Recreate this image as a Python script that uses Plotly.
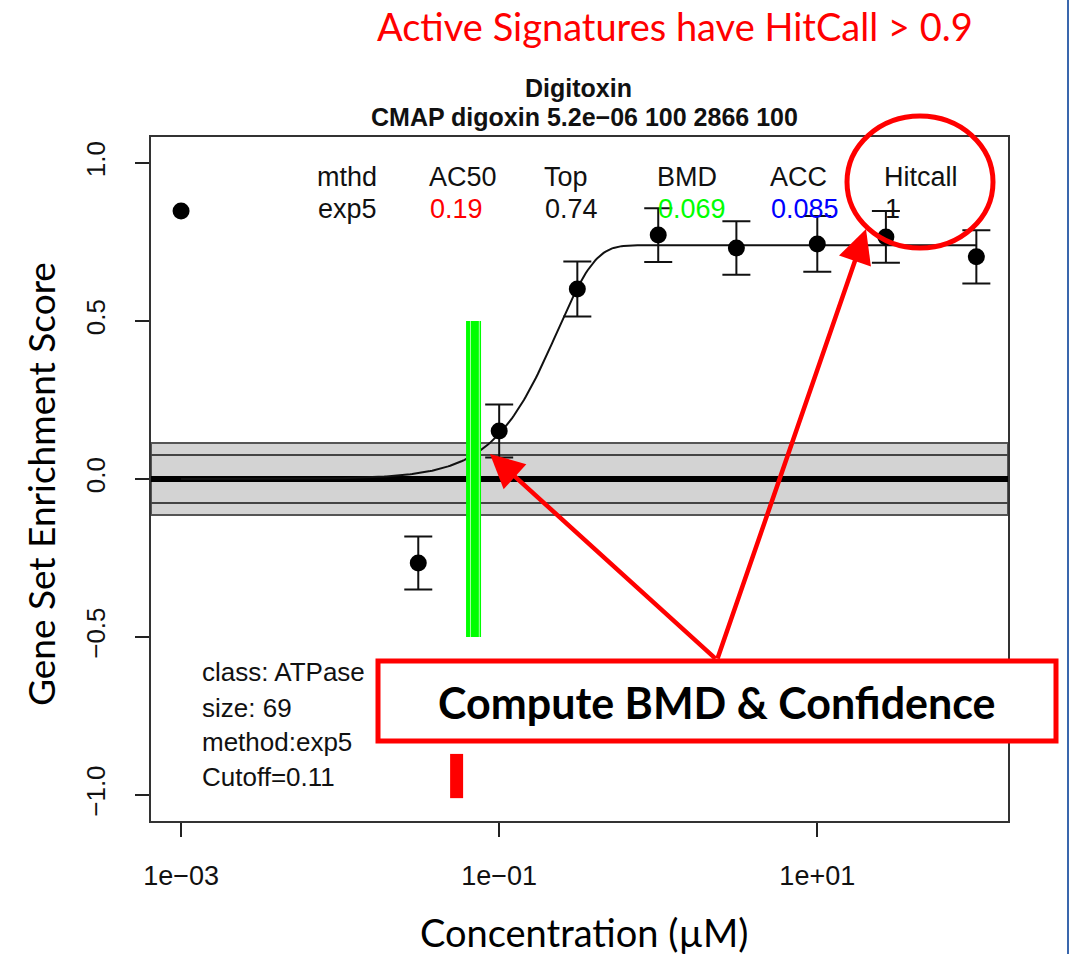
import numpy as np
import plotly.graph_objects as go

# ---- dose-response data (concentration in uM, gene set enrichment score) ----
conc = [0.001, 0.031, 0.1, 0.31, 1.0, 3.1, 10.0, 27.0, 100.0]
resp = [0.848, -0.266, 0.152, 0.601, 0.772, 0.731, 0.744, 0.766, 0.703]
resp_err = [0.0, 0.084, 0.084, 0.087, 0.085, 0.085, 0.088, 0.082, 0.084]

# ---- exp5 fit summary ----
fit_method = "exp5"
ac50 = 0.19
top = 0.74
bmd = 0.069
acc = 0.085
hitcall = 1
hill_power = 1.83
bmd_low = 0.066
bmd_high = 0.075
cutoff = 0.11
noise_band = 0.076
red_mark_conc = 0.054
red_mark_range = [-0.87, -1.01]
bmd_bar_range = [0.5, -0.5]

# ---- figure geometry (pixels) ----
W, H = 1072, 954
PL, PR, PT, PB = 151, 1008, 137, 821


def px(x):
    return (x - PL) / (PR - PL)


def py(y):
    return (PB - y) / (PB - PT)


R_FONT = "Liberation Sans, Arial, sans-serif"
SLIDE_FONT = "Lato, Open Sans, sans-serif"
INK = "#111111"

fig = go.Figure()

# fitted exp5 curve: top * (1 - 2^(-(x/ac50)^p))
xc = np.logspace(np.log10(conc[0]), np.log10(conc[-1]), 400)
yc = top * (1 - 2 ** (-((xc / ac50) ** hill_power)))
fig.add_trace(go.Scatter(x=xc, y=yc, mode="lines",
                         line=dict(color="#111111", width=2), hoverinfo="skip"))

# BMD bar (bmd with its confidence bounds)
fig.add_trace(go.Scatter(x=[bmd, bmd], y=bmd_bar_range, mode="lines",
                         line=dict(color="#00ff00", width=15), hoverinfo="skip"))
for b in (bmd_low, bmd_high):
    fig.add_trace(go.Scatter(x=[b, b], y=bmd_bar_range, mode="lines",
                             line=dict(color="#a8ffa8", width=1), hoverinfo="skip"))

# red mark near the bottom axis
fig.add_trace(go.Scatter(x=[red_mark_conc, red_mark_conc], y=red_mark_range, mode="lines",
                         line=dict(color="#ff0000", width=13), hoverinfo="skip"))

# control point (no error bar)
fig.add_trace(go.Scatter(x=conc[:1], y=resp[:1], mode="markers",
                         marker=dict(color="black", size=17)))
# treated points with error bars
fig.add_trace(go.Scatter(
    x=conc[1:], y=resp[1:], mode="markers",
    marker=dict(color="black", size=17),
    error_y=dict(type="data", array=resp_err[1:], visible=True,
                 color="#111111", thickness=2, width=14),
))

shapes = [
    # cutoff band
    dict(type="rect", xref="paper", yref="y", x0=0, x1=1, y0=-cutoff - 0.004, y1=cutoff + 0.004,
         fillcolor="#d3d3d3", line=dict(color="#555555", width=2), layer="below"),
    dict(type="line", xref="paper", yref="y", x0=0, x1=1, y0=noise_band, y1=noise_band,
         line=dict(color="#444444", width=2), layer="below"),
    dict(type="line", xref="paper", yref="y", x0=0, x1=1, y0=-noise_band, y1=-noise_band,
         line=dict(color="#444444", width=2), layer="below"),
    dict(type="line", xref="paper", yref="y", x0=0, x1=1, y0=0, y1=0,
         line=dict(color="#000000", width=6), layer="below"),
    # highlight box
    dict(type="rect", xref="paper", yref="paper", x0=px(378), x1=px(1056), y0=py(741), y1=py(661),
         fillcolor="white", line=dict(color="#ff0000", width=5), layer="above"),
    # hitcall ellipse
    dict(type="circle", xref="paper", yref="paper", x0=px(847), x1=px(993), y0=py(248), y1=py(116),
         line=dict(color="#ff0000", width=5), layer="above"),
    # slide border
    dict(type="line", xref="paper", yref="paper", x0=px(1068), x1=px(1068), y0=py(954), y1=py(0),
         line=dict(color="#3a67ad", width=2), layer="above"),
]

annotations = []


def txt(x, y, s, size, color=INK, font=R_FONT, xanchor="left", bold=False, angle=0):
    annotations.append(dict(
        x=px(x), y=py(y), xref="paper", yref="paper", text=("<b>%s</b>" % s) if bold else s,
        showarrow=False, xanchor=xanchor, yanchor="middle", textangle=angle,
        font=dict(family=font, size=size, color=color)))


# titles
txt(578, 88, "Digitoxin", 25, xanchor="center", bold=True)
txt(584, 117, "CMAP digoxin 5.2e\u221206 100 2866 100", 25, xanchor="center", bold=True)

# fit summary table
cols = [315, 427, 542, 655, 768, 882]
headers = ["mthd", "AC50", "Top", "BMD", "ACC", "Hitcall"]
values = [fit_method, f"{ac50:g}", f"{top:g}", f"{bmd:g}", f"{acc:g}", f"{hitcall:g}"]
vcolors = [INK, "#ff0000", INK, "#00ff00", "#0000ff", INK]
for cx, hd, vl, vc in zip(cols, headers, values, vcolors):
    txt(cx, 177, hd, 27)
    txt(cx + 1, 209, vl, 27, color=vc)

# gene set info
txt(200, 672, "class: ATPase", 26)
txt(200, 708, "size: 69", 26)
txt(200, 742, "method:" + fit_method, 26)
txt(200, 777, f"Cutoff={cutoff:g}", 26)

# slide labels
txt(675, 26, "Active Signatures have HitCall &gt; 0.9", 38, color="#ff0000", font=SLIDE_FONT, xanchor="center")
txt(584, 932, "Concentration (\u00b5M)", 38, color="#000000", font=SLIDE_FONT, xanchor="center")
txt(40, 484, "Gene Set Enrichment Score", 37, color="#000000", font=SLIDE_FONT, xanchor="center", angle=-90)
txt(717, 702, "Compute BMD &amp; Confidence", 43, color="#000000", font=SLIDE_FONT, xanchor="center", bold=True)

# arrows from the box
for hx, hy in [(490, 454), (866, 229)]:
    annotations.append(dict(
        x=px(hx), y=py(hy), xref="paper", yref="paper", showarrow=True,
        ax=717 - hx, ay=660 - hy, axref="pixel", ayref="pixel",
        arrowhead=2, arrowsize=1.5, arrowwidth=4.5, arrowcolor="#ff0000", text=""))

fig.update_layout(
    width=W, height=H,
    margin=dict(l=PL, r=W - PR, t=PT, b=H - PB),
    paper_bgcolor="white", plot_bgcolor="white",
    showlegend=False,
    shapes=shapes, annotations=annotations,
    xaxis=dict(type="log", range=[-3.189, 2.199], showgrid=False, zeroline=False,
               tickvals=[1e-3, 1e-1, 1e1], ticktext=["1e\u221203", "1e\u221201", "1e+01"],
               ticks="outside", ticklen=14, tickwidth=1.5, tickcolor="#222",
               showline=True, mirror=True, linecolor="#333", linewidth=2,
               tickfont=dict(family=R_FONT, size=27, color=INK), ticklabelstandoff=16),
    yaxis=dict(range=[-1.0823, 1.0823], showgrid=False, zeroline=False,
               tickvals=[-1, -0.5, 0, 0.5, 1],
               ticktext=["\u22121.0", "\u22120.5", "0.0", "0.5", "1.0"], tickangle=-90,
               ticks="outside", ticklen=14, tickwidth=1.5, tickcolor="#222",
               showline=True, mirror=True, linecolor="#333", linewidth=2,
               tickfont=dict(family=R_FONT, size=26, color=INK), ticklabelstandoff=20),
)

fig.write_html("out.html")
